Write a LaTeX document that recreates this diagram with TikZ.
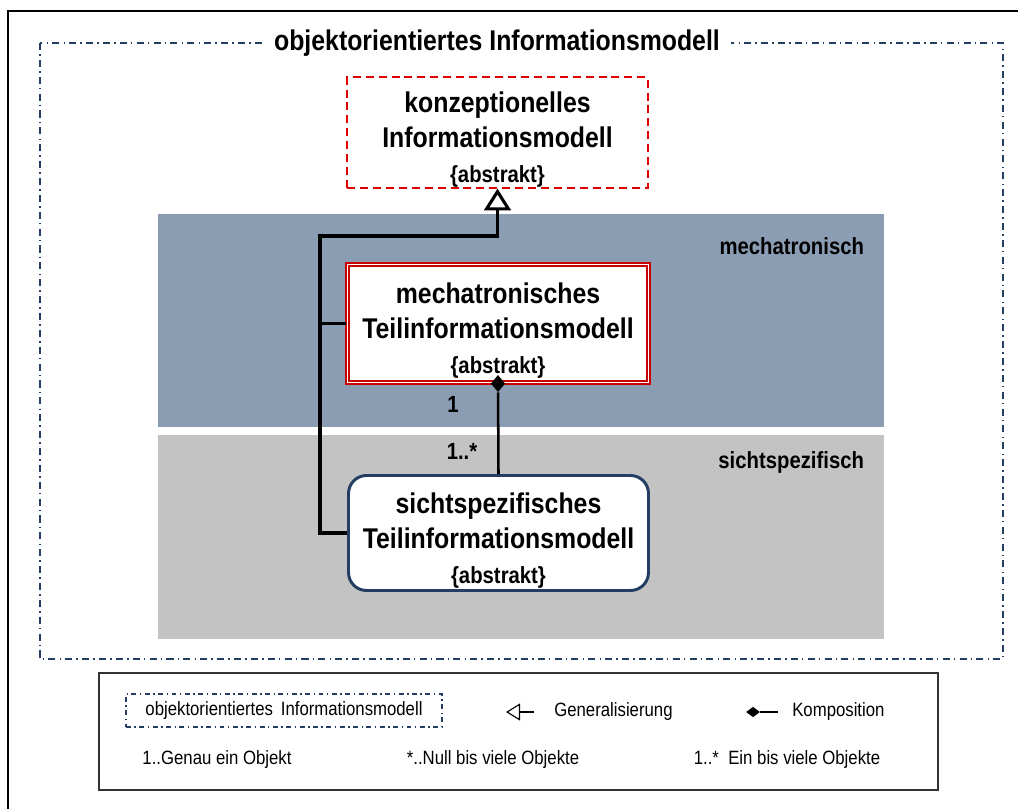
\documentclass[tikz,border=0pt]{standalone}
\usepackage{fontspec}
\setmainfont{Liberation Sans}[FakeStretch=0.87]
\usetikzlibrary{arrows.meta,shapes.geometric}

\definecolor{navy}{RGB}{36,62,99}
\definecolor{rot}{RGB}{222,0,0}
\definecolor{mechband}{RGB}{139,157,178}
\definecolor{sichtband}{RGB}{195,195,195}

\newcommand{\gross}{\fontsize{20.3}{25}\selectfont\bfseries}
\newcommand{\klein}{\fontsize{16.6}{19}\selectfont\bfseries}
\newcommand{\legtext}{\fontsize{13.7}{15}\selectfont}
\newcommand{\kopf}{\rule{0pt}{25pt}}

\begin{document}
\begin{tikzpicture}[x=0.025cm, y=-0.025cm,
        rahmen/.style={draw=navy, line width=1.4pt, dash pattern=on 5pt off 3pt on 1pt off 3pt},
        klasse/.style={align=center, inner sep=0pt, font=\gross},
        abstrakt/.style={klasse, draw=rot, dashed, line width=1.4pt, dash pattern=on 5.7pt off 3.5pt},
        teilmodell/.style={klasse, draw=rot!90!black, fill=white, line width=1.5pt, double=white, double distance=1pt},
        sicht/.style={klasse, draw=navy, fill=white, line width=2.1pt, rounded corners=0.45cm},
        band_label/.style={anchor=east, font=\klein},
        mult/.style={font=\klein},
        gen/.style={line width=2.2pt, -{Triangle[fill=white, length=15.5pt, width=19pt]}},
        ast/.style={line width=1.7pt},
        raute/.style={diamond, fill=black, inner sep=0pt},
        leg/.style={font=\legtext}
    ]
    \useasboundingbox (0,0) rectangle (1018,808);

    % Rahmen aussen
    \draw[line width=2.1pt] (8,850) -- (8,11) -- (1060,11);

    % Baender
    \fill[mechband] (158,214) rectangle (884,427);
    \fill[sichtband] (158,435) rectangle (884,639);
    \node[band_label] (mechlabel) at (869,246) {mechatronisch};
    \node[band_label] (sichtlabel) at (869,462) {sichtspezifisch};

    % Paket
    \draw[rahmen] (40,43) rectangle (1003,659);
    \node[fill=white, font=\gross, inner xsep=8pt] (titel) at (497,43) {objektorientiertes Informationsmodell};

    % Klassen
    \node[abstrakt, minimum width=301*0.025cm, minimum height=109*0.025cm] (konzept) at (497.5,132.5)
        {\kopf konzeptionelles\\Informationsmodell\\{\klein\{abstrakt\}}};
    \node[teilmodell, minimum width=301*0.025cm, minimum height=118*0.025cm] (mech) at (498,323.5)
        {\kopf mechatronisches\\Teilinformationsmodell\\{\klein\{abstrakt\}}};
    \node[sicht, minimum width=300*0.025cm, minimum height=115*0.025cm] (sicht) at (498.5,533)
        {\kopf sichtspezifisches\\Teilinformationsmodell\\{\klein\{abstrakt\}}};

    % Generalisierung
    \coordinate (knick) at (320,236);
    \draw[gen] (sicht.west) -| (knick) -| (konzept.south);
    \draw[ast] (mech.west) -- (mech.west -| knick);

    % Komposition
    \node[raute, minimum width=0.36cm, minimum height=0.43cm] (mechraute) at (mech.south) {};
    \draw[line width=1.8pt] (mechraute) -- (sicht.north);
    \node[mult] (eins) at (453,404) {1};
    \node[mult] (viele) at (462,451) {1..*};

    % Legende
    \draw[draw=black!80, line width=1.1pt] (99,673) rectangle (938,790);
    \node[leg, draw=navy, line width=1pt, dash pattern=on 3.5pt off 2.5pt on 1pt off 2.5pt,
        minimum width=316*0.025cm, minimum height=33*0.025cm] (legpaket) at (284,710.5)
        {objektorientiertes\, Informationsmodell};

    \node[leg, anchor=west, inner sep=0pt] (legGen) at (554,712) {Generalisierung};
    \coordinate (genspitze) at (506,712);
    \draw[line width=0.8pt, -{Triangle[open, length=14*0.025cm, width=17*0.025cm]}]
        ([xshift=-0.5cm]legGen.west) -- (genspitze);

    \node[leg, anchor=west, inner sep=0pt] (legKomp) at (792,712) {Komposition};
    \node[raute, minimum width=0.35cm, minimum height=0.26cm] (legraute) at (753,712) {};
    \draw[line width=0.8pt] (legraute) -- ([xshift=-0.35cm]legKomp.west);

    \node[leg] (legEins) at (217,760) {1..Genau ein Objekt};
    \node[leg] (legNull) at (493,760) {*..Null bis viele Objekte};
    \node[leg] (legViele) at (787,760) {1..*~ Ein bis viele Objekte};
\end{tikzpicture}
\end{document}
